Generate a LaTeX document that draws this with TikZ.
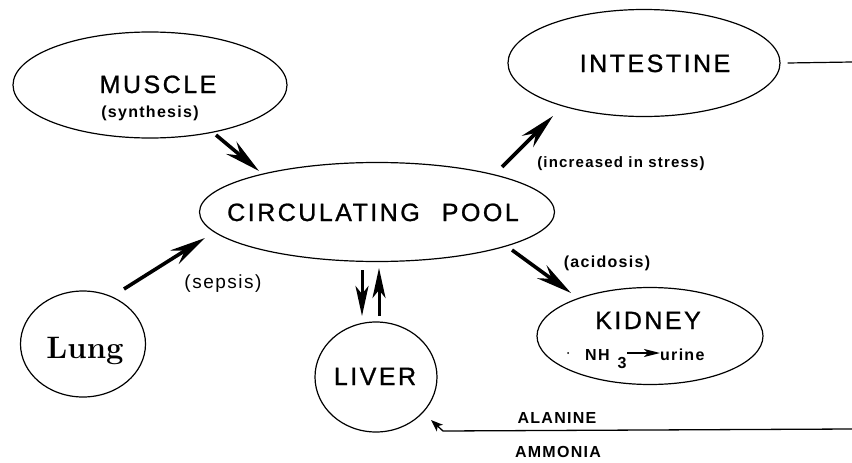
\documentclass[tikz,border=0pt]{standalone}
\usepackage{fontspec}
\setmainfont{Liberation Sans}
\newfontfamily\bigf[LetterSpace=10,FakeBold=1]{Liberation Sans}
\newfontfamily\smallf[LetterSpace=8]{Liberation Sans}
\newfontfamily\lmf{Latin Modern Roman}
\usetikzlibrary{shapes.geometric,arrows.meta}
\begin{document}
\begin{tikzpicture}[x=1pt,y=-1pt,
  organ/.style={draw, ellipse, line width=1.2pt, inner sep=0pt},
  big/.style={font=\bigf\fontsize{25}{30}\selectfont, anchor=base, inner sep=0pt},
  small/.style={font=\smallf\bfseries\fontsize{16}{19}\selectfont, anchor=base, inner sep=0pt},
  fat/.style={line width=3.6pt, -{Stealth[length=36pt,width=16pt,inset=12pt]}},
  updown/.style={line width=3pt, -{Stealth[length=30pt,width=13pt,inset=8pt]}},
  thinarrow/.style={line width=1.3pt, -{Stealth[length=12pt,width=9pt,inset=3pt]}}
]
\useasboundingbox (0,0) rectangle (852,463);
% organs
\node[organ, minimum width=274pt, minimum height=106pt] (muscle) at (150,85) {};
\node[organ, minimum width=355pt, minimum height=99pt] (pool) at (377,212) {};
\node[organ, minimum width=272pt, minimum height=107pt] (intestine) at (644,63) {};
\node[organ, minimum width=226pt, minimum height=97pt] (kidney) at (650,336) {};
\node[organ, minimum width=125pt, minimum height=106pt] (lung) at (83,344) {};
\node[organ, minimum width=122pt, minimum height=110pt] (liver) at (376,377) {};
% texts
\node[big] (tmuscle) at (158,93) {MUSCLE};
\node[small] (tsynth) at (150,117) {(synthesis)};
\node[big] (tpool) at (373,221) {CIRCULATING\hspace{22pt}POOL};
\node[big] (tintest) at (655,72) {INTESTINE};
\node[big] (tliver) at (375,385) {LIVER};
\node[big] (tkidney) at (648,329) {KIDNEY};
\node[anchor=base, inner sep=0pt, font=\lmf\bfseries\fontsize{31}{36}\selectfont] (tlung) at (85,358) {Lung};
\node[small, font=\smallf\bfseries\fontsize{15}{18}\selectfont] (tstress) at (621,167) {(increased in stress)};
\node[anchor=base, inner sep=0pt, font=\smallf\fontsize{19}{22}\selectfont] (tsepsis) at (223,288) {(sepsis)};
\node[small] (tacid) at (607,267) {(acidosis)};
\node[small] (talan) at (557,423) {ALANINE};
\node[small] (tammo) at (558,457) {AMMONIA};
\node[small, anchor=base west] (tnh) at (585,360) {NH};
\node[small] (tthree) at (622,368) {3};
\node[small, anchor=base west] (turine) at (660,360) {urine};
\node[circle, fill, inner sep=0pt, minimum size=2pt] (tdot) at (568,353) {};
% arrows
\coordinate (m1) at (216,135); \coordinate (m2) at (259,171);
\draw[fat] (m1) -- (m2);
\coordinate (l1) at (124,289); \coordinate (l2) at (205,238);
\draw[fat] (l1) -- (l2);
\coordinate (i1) at (502,167); \coordinate (i2) at (553,116);
\draw[fat] (i1) -- (i2);
\coordinate (k1) at (512,250); \coordinate (k2) at (571,293);
\draw[fat] (k1) -- (k2);
\coordinate (d1) at (362,270); \coordinate (d2) at (362,316);
\draw[updown] (d1) -- (d2);
\coordinate (u1) at (379,316); \coordinate (u2) at (379,268);
\draw[updown] (u1) -- (u2);
% kidney inner arrow
\coordinate (ka) at (627,353);
\draw[line width=1.6pt, -{Stealth[length=16pt,width=8pt,inset=4pt]}] (ka) -- (turine.west |- ka);
% intestine outflow
\coordinate (iend) at (852,62);
\draw[line width=1.2pt] ([xshift=7pt]intestine.east) -- (iend);
% bottom return line
\coordinate (bR) at (852,429);
\coordinate (bK) at (443,431);
\coordinate (btip) at (431,420);
\draw[thinarrow] (bR) -- (bK) -- (btip);
\end{tikzpicture}
\end{document}
